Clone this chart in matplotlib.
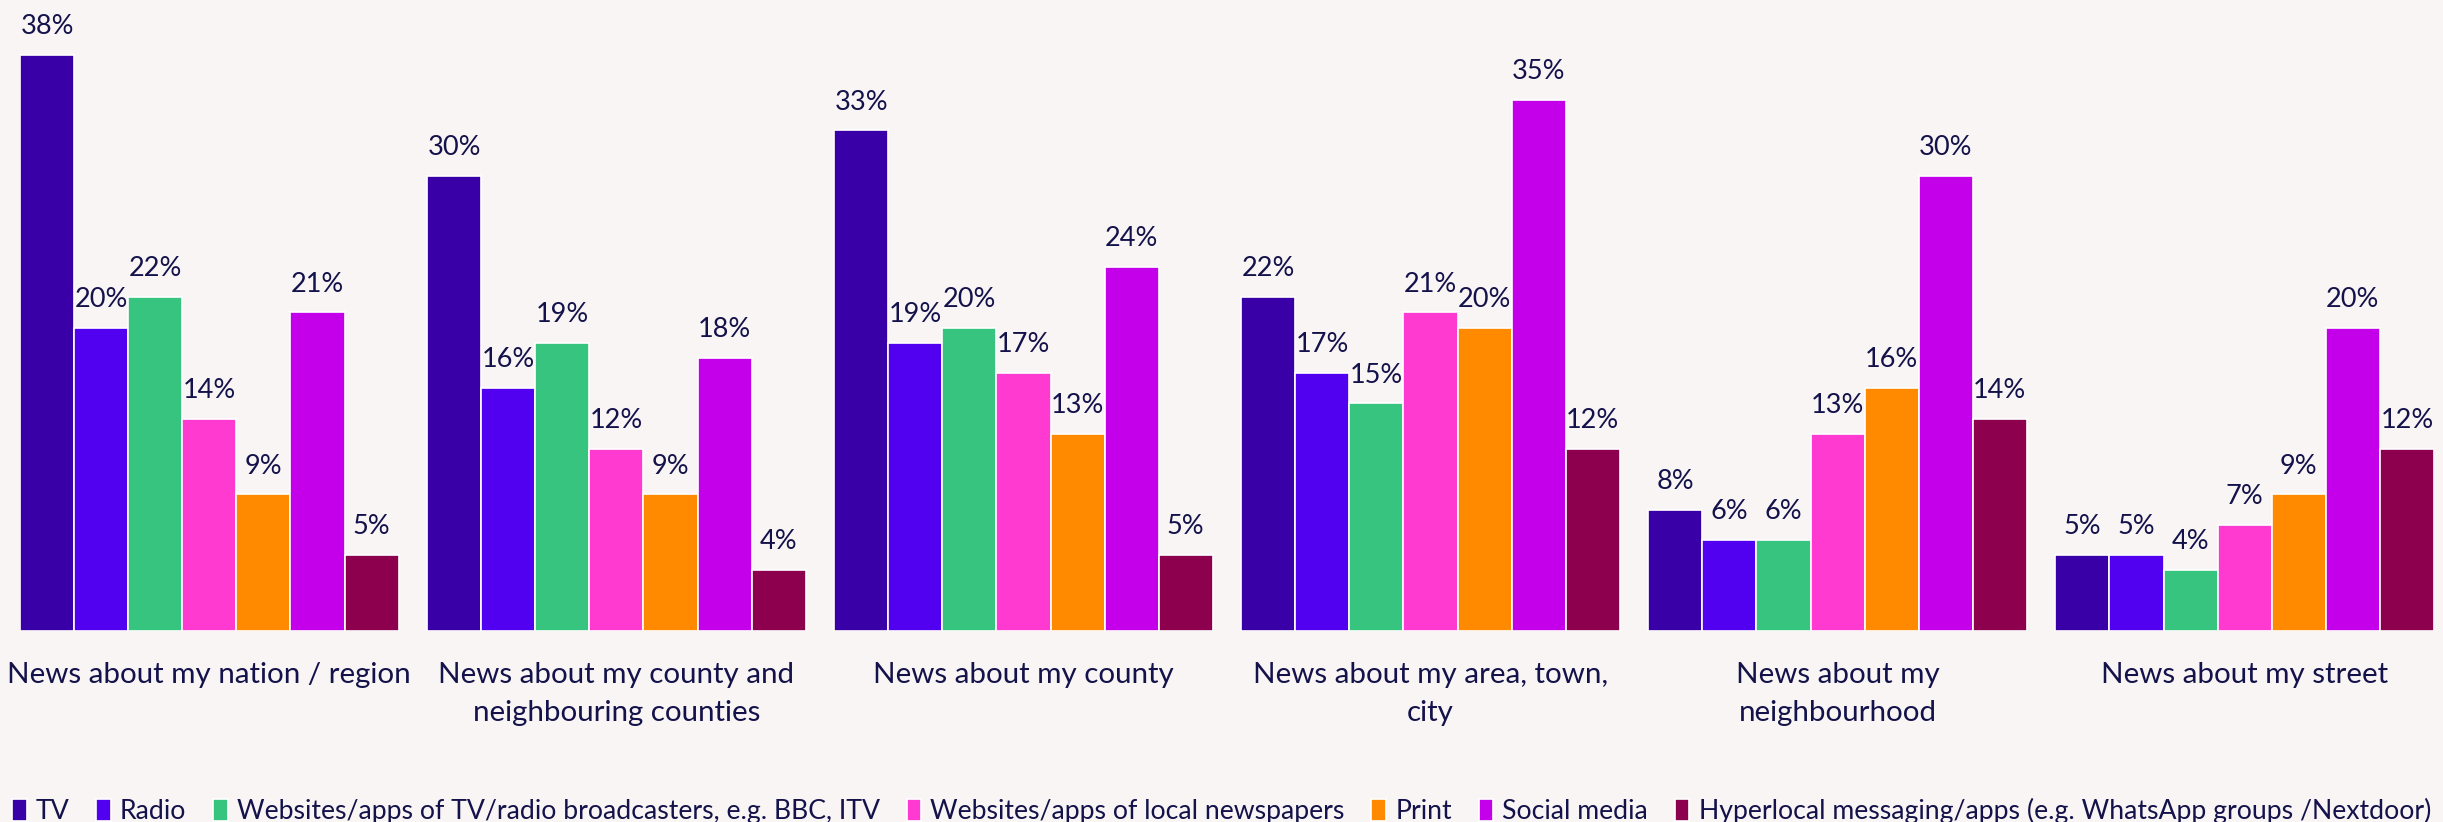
import matplotlib
matplotlib.use("Agg")
import matplotlib.pyplot as plt
import numpy as np

categories = ["News about my nation / region",
              "News about my county and\nneighbouring counties",
              "News about my county",
              "News about my area, town,\ncity",
              "News about my\nneighbourhood",
              "News about my street"]
series = ["TV", "Radio", "Websites/apps of TV/radio broadcasters, e.g. BBC, ITV",
          "Websites/apps of local newspapers", "Print", "Social media",
          "Hyperlocal messaging/apps (e.g. WhatsApp groups /Nextdoor)"]
tv = [38, 30, 33, 22, 8, 5]
radio = [20, 16, 19, 17, 6, 5]
web_broadcasters = [22, 19, 20, 15, 6, 4]
web_newspapers = [14, 12, 17, 21, 13, 7]
print_ = [9, 9, 13, 20, 16, 9]
social = [21, 18, 24, 35, 30, 20]
hyperlocal = [5, 4, 5, 12, 14, 12]
values = [tv, radio, web_broadcasters, web_newspapers, print_, social, hyperlocal]
colors = ["#3A00A8", "#5200F0", "#36C47F", "#FF3AD0", "#FF8A00", "#C400EA", "#8C004E"]

bg = "#F9F5F4"
txt = "#14124A"
FONT = "Lato"

fig = plt.figure(figsize=(24.43, 8.22), dpi=100, facecolor=bg)
ax = fig.add_axes([20/2443, (822-631)/822, (2434-20)/2443, (631-24.2)/822])
ax.set_facecolor(bg)

n = len(series)
gw = 0.93
w = gw / n
x = np.arange(len(categories))
for i, (vals, c) in enumerate(zip(values, colors)):
    pos = x - gw/2 + w*(i+0.5)
    ax.bar(pos, vals, width=w, color=c, edgecolor="white", linewidth=1.2, label=series[i])
    for p, v in zip(pos, vals):
        ax.annotate(f"{v}%", (p, v), xytext=(0, 15), textcoords="offset points",
                    ha="center", va="baseline", fontsize=19.5, color=txt, family=FONT)

ax.set_xlim(-gw/2, len(categories)-1+gw/2)
ax.set_ylim(0, 40)
ax.set_yticks([])
ax.set_xticks(x)
ax.set_xticklabels(categories, fontsize=22, color=txt, family=FONT, linespacing=1.6)
ax.tick_params(axis="x", length=0, pad=22)
for s in ax.spines.values():
    s.set_visible(False)

# fit category label size to reference width (~402 px for first label)
renderer = fig.canvas.get_renderer()
lab0 = ax.get_xticklabels()[0]
wpx = lab0.get_window_extent(renderer).width
fs = 22 * 402 / wpx
for t in ax.get_xticklabels():
    t.set_fontsize(fs)

handles, labels = ax.get_legend_handles_labels()
def make_legend(size):
    return fig.legend(handles, labels, ncol=7, loc="center", bbox_to_anchor=(0.5, 11/822),
                      frameon=False, handlelength=0.55, handleheight=0.9, handletextpad=0.35,
                      columnspacing=1.0, borderaxespad=0, borderpad=0,
                      prop={"family": FONT, "size": size})
leg = make_legend(20)
lw = leg.get_window_extent(renderer).width
leg.remove()
leg = make_legend(20 * 2415 / lw)
for t in leg.get_texts():
    t.set_color(txt)

fig.savefig("out.png", dpi=100, facecolor=bg)
